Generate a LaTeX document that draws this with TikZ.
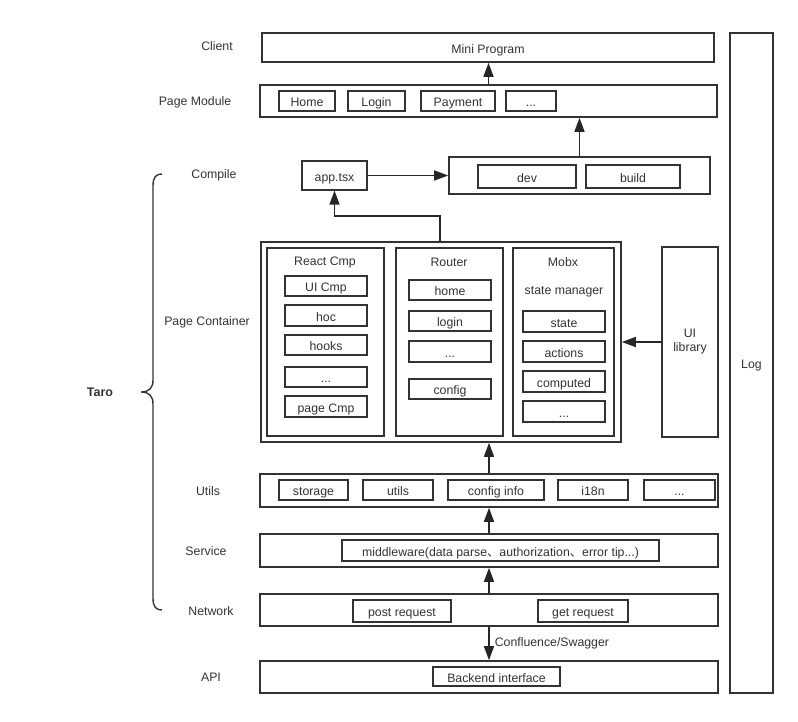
\documentclass[tikz,border=0pt]{standalone}
\usepackage{fontspec}
\setmainfont{Liberation Sans}
\newfontfamily\cjkfont{Noto Sans CJK SC}
\usetikzlibrary{arrows.meta}
\newcommand\mybox[7][]{\node[box,#1,minimum width={#5-#3},minimum height={#6-#4}] (#2) at ({(#3+#5)/2},{(#4+#6)/2}) {#7};}
\begin{document}
\begin{tikzpicture}[x=1pt,y=-1pt,
  every node/.style={font=\fontsize{12.3}{14}\selectfont, text=black!80},
  box/.style={draw=black!80, line width=1.6pt, inner sep=0pt, fill=white, text height=11.5pt, text depth=0pt},
  ibox/.style={box, line width=1.3pt},
  lab/.style={inner sep=0pt},
  arr/.style={draw=black!85, line width=1.6pt, -{Triangle[length=14pt,width=10pt]}}]
\useasboundingbox (0,0) rectangle (798,721);

% left labels
\node[lab] (lclient) at (217,46) {Client};
\node[lab] (lpm) at (195,102) {Page Module};
\node[lab] (lcompile) at (214,175) {Compile};
\node[lab] (lpc) at (207,322) {Page Container};
\node[lab] (lutils) at (208,491) {Utils};
\node[lab] (lservice) at (206,551) {Service};
\node[lab] (lnetwork) at (211,611) {Network};
\node[lab] (lapi) at (211,677) {API};
\node[lab, font=\fontsize{12.5}{14}\selectfont\bfseries] (taro) at (100,392) {Taro};

% brace
\draw[draw=black!80, line width=1.4pt]
  (162,174) .. controls (156,174) and (153,177) .. (153,186) -- (153,380)
  .. controls (153,388) and (149,392) .. (141,392)
  .. controls (149,392) and (153,396) .. (153,404) -- (153,598)
  .. controls (153,607) and (156,610) .. (162,610);

% Client
\mybox{client}{262}{33}{714}{62}{Mini Program}

% Page module
\mybox{pm}{260}{85}{717}{117}{}
\mybox[ibox]{home}{279}{91}{335}{111}{Home}
\mybox[ibox]{login}{348}{91}{405}{111}{Login}
\mybox[ibox]{payment}{421}{91}{495}{111}{Payment}
\mybox[ibox]{pmdots}{506}{91}{556}{111}{...}

% Compile
\mybox[ibox]{app}{302}{161}{367}{190}{app.tsx}
\mybox{cmp}{449}{157}{710}{194}{}
\mybox[ibox]{dev}{478}{165}{576}{188}{dev}
\mybox[ibox]{build}{586}{165}{680}{188}{build}

% Page container
\mybox{pc}{261}{242}{621}{442}{}
\mybox[ibox]{react}{267}{248}{384}{436}{}
\mybox[ibox]{router}{396}{248}{503}{436}{}
\mybox[ibox]{mobx}{513}{248}{614}{436}{}
\node[lab] (treact) at (325,262) {React Cmp};
\mybox[ibox]{uicmp}{285}{276}{367}{296}{UI Cmp}
\mybox[ibox]{hoc}{285}{305}{367}{326}{hoc}
\mybox[ibox]{hooks}{285}{335}{367}{355}{hooks}
\mybox[ibox]{rdots}{285}{367}{367}{387}{...}
\mybox[ibox]{pagecmp}{285}{396}{367}{417}{page Cmp}
\node[lab] (trouter) at (449,262) {Router};
\mybox[ibox]{rhome}{409}{280}{491}{300}{home}
\mybox[ibox]{rlogin}{409}{311}{491}{331}{login}
\mybox[ibox]{rtdots}{409}{341}{491}{362}{...}
\mybox[ibox]{rconfig}{409}{379}{491}{399}{config}
\node[lab] (tmobx) at (563,262) {Mobx};
\node[lab] (tsm) at (564,292) {state manager};
\mybox[ibox]{state}{523}{311}{605}{332}{state}
\mybox[ibox]{actions}{523}{341}{605}{362}{actions}
\mybox[ibox]{computed}{523}{371}{605}{392}{computed}
\mybox[ibox]{mdots}{523}{401}{605}{422}{...}

\mybox[ibox]{uil}{662}{247}{718}{437}{}
\node[lab, align=center] (tuil) at (uil) {UI\\library};

% Utils
\mybox{utils}{260}{474}{718}{507}{}
\mybox[ibox]{storage}{279}{480}{348}{500}{storage}
\mybox[ibox]{utl}{363}{480}{433}{500}{utils}
\mybox[ibox]{configinfo}{448}{480}{544}{500}{config info}
\mybox[ibox]{i18n}{558}{480}{628}{500}{i18n}
\mybox[ibox]{udots}{644}{480}{715}{500}{...}

% Service
\mybox{service}{260}{534}{718}{567}{}
\mybox[ibox]{mw}{342}{540}{659}{561}{middleware(data parse{\cjkfont 、}authorization{\cjkfont 、}error tip...)}

% Network
\mybox{network}{260}{594}{718}{626}{}
\mybox[ibox]{post}{353}{600}{451}{622}{post request}
\mybox[ibox]{get}{538}{600}{628}{622}{get request}

% API
\mybox{api}{260}{661}{718}{693}{}
\mybox[ibox]{backend}{433}{667}{560}{686}{Backend interface}

% Log
\mybox{log}{730}{33}{773}{693}{Log}

% connectors
\coordinate (pcx) at (440,0);
\coordinate (bend) at (0,216);
\draw[arr] (pm.north) -- (pm.north |- client.south);
\draw[arr] (cmp.north) -- (cmp.north |- pm.south);
\draw[arr] (app.east) -- (app.east -| cmp.west);
\draw[arr] (pc.north -| pcx) -- (pcx |- bend) -| (app.south);
\draw[arr] (uil.west) -- (uil.west -| pc.east);
\draw[arr] (utils.north) -- (utils.north |- pc.south);
\draw[arr] (service.north) -- (service.north |- utils.south);
\draw[arr] (network.north) -- (network.north |- service.south);
\draw[arr] (network.south) -- node[lab, right, xshift=5pt] {Confluence/Swagger} (api.north);
\end{tikzpicture}
\end{document}
